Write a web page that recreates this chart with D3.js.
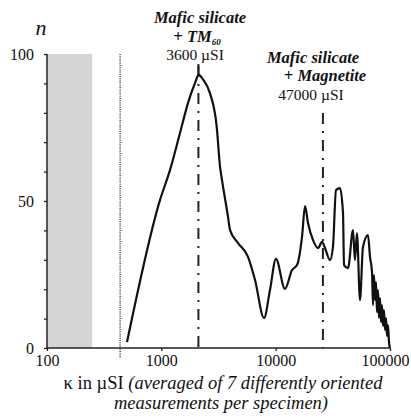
<!DOCTYPE html>
<html>
<head>
<meta charset="utf-8">
<script src="https://cdn.jsdelivr.net/npm/d3@7"></script>
<style>
  body { margin: 0; background: #fff; }
</style>
</head>
<body>
<script>
// susceptibility (µSI) and count n
var kappa = [501, 973, 1190, 1456, 1710, 1968, 2123, 2328, 2666, 3050, 3260, 3394,
  3831, 3990, 4690, 5730, 6600, 7910, 8920, 10060, 12070, 13890, 15370, 17000,
  18060, 19180, 21220, 23460, 25430, 27010, 29860, 31700, 33700, 36530, 38810,
  39620, 42940, 47460, 49400, 51400, 54650, 58040, 64220, 66850,
  69600, 71030, 72470, 73940, 75440, 76960, 78530, 80120, 81760, 83420, 85120,
  86850, 88620, 90420, 92270, 94150, 96050, 98010, 100000];
var count = [2.0, 50.3, 60.5, 73.1, 83.3, 90.1, 92.9, 91.2, 86.6, 75.3, 61.7, 57.1,
  44.6, 40.1, 35.7, 31.0, 23.1, 10.2, 19.7, 30.3, 20.1, 26.5, 28.2, 37.8,
  48.3, 42.5, 36.7, 34.0, 36.1, 34.0, 29.9, 34.4, 53.7, 54.4, 45.9,
  28.2, 27.2, 40.1, 29.9, 39.1, 16.3, 34.4, 38.4, 31.0,
  25.9, 14.6, 24.8, 16.3, 22.4, 12.2, 19.7, 10.2, 17.0, 8.8, 14.6,
  7.5, 12.9, 6.1, 10.2, 4.1, 7.8, 2.0, 0];

var xTicks = [100, 1000, 10000, 100000];
var yTicks = [0, 10, 20, 30, 40, 50, 60, 70, 80, 90, 100];
var yLabels = [0, 50, 100];

var shadedRange = [100, 248];   // grey band
var dottedAt = 436;             // dotted limit line
var markers = [2110, 25900];    // dash-dot marker lines
var markerTop = [66, 113];      // y pixel where marker starts

var FONT = "'Liberation Serif'";
var W = 411, H = 420;
var svg = d3.select("body").append("svg").attr("width", W).attr("height", H);

var x = d3.scaleLog().domain([100, 100000]).range([47, 390]);
var y = d3.scaleLinear().domain([0, 100]).range([348, 54]);

// grey band
svg.append("rect")
  .attr("x", x(shadedRange[0]))
  .attr("y", y(100))
  .attr("width", x(shadedRange[1]) - x(shadedRange[0]))
  .attr("height", y(0) - y(100))
  .attr("fill", "#d4d5d7");

// dotted line
svg.append("line")
  .attr("x1", x(dottedAt)).attr("x2", x(dottedAt))
  .attr("y1", y(100)).attr("y2", y(0) + 10)
  .attr("stroke", "#222").attr("stroke-width", 1.3)
  .attr("stroke-dasharray", "1,1.2");

// dash-dot markers
markers.forEach(function(m, i) {
  svg.append("line")
    .attr("x1", x(m)).attr("x2", x(m))
    .attr("y1", markerTop[i]).attr("y2", y(0))
    .attr("stroke", "#222").attr("stroke-width", 2)
    .attr("stroke-dasharray", "11,7,2,7");
});
// small solid tick on top of first marker
svg.append("line")
  .attr("x1", x(markers[0])).attr("x2", x(markers[0]))
  .attr("y1", 64).attr("y2", 75)
  .attr("stroke", "#222").attr("stroke-width", 2);

// curve
var pts = kappa.map(function(k, i) { return [k, count[i]]; });
var line = d3.line()
  .x(function(d) { return x(d[0]); })
  .y(function(d) { return y(d[1]); })
  .curve(d3.curveMonotoneX);
svg.append("path")
  .datum(pts)
  .attr("d", line)
  .attr("fill", "none")
  .attr("stroke", "#111")
  .attr("stroke-width", 2.2)
  .attr("stroke-linejoin", "round");

// axes
var yAxis = d3.axisLeft(y).tickValues(yTicks).tickSize(3).tickPadding(10)
  .tickFormat(function(d) { return yLabels.indexOf(d) >= 0 ? d : ""; });
var gy = svg.append("g").attr("transform", "translate(47,0)").call(yAxis);
var xAxis = d3.axisBottom(x).tickValues(xTicks).tickSize(3).tickPadding(4)
  .tickFormat(d3.format("d"));
var gx = svg.append("g").attr("transform", "translate(0,348)").call(xAxis);
[gx, gy].forEach(function(g) {
  g.attr("font-family", FONT).attr("font-size", 16);
  g.select(".domain").attr("stroke", "#222").attr("stroke-width", 1.5);
  g.selectAll(".tick line").attr("stroke", "#222").attr("stroke-width", 1.3);
  g.selectAll("text").style("font-family", FONT)
    .style("font-size", "16px").attr("fill", "#111");
});
gy.select(".domain").attr("d", "M0,348V54");
gx.select(".domain").attr("d", "M47,0H390");
// last label sits against the right edge
gx.selectAll(".tick text").filter(function(d) { return d === 100000; })
  .attr("dx", -5);

// y label
svg.append("text").attr("x", 41).attr("y", 35).attr("text-anchor", "middle")
  .style("font-family", FONT).style("font-style", "italic")
  .style("font-size", "22px").attr("fill", "#111").text("n");

// annotations
function ann(xc, yb, parts, size) {
  var t = svg.append("text").attr("x", xc).attr("y", yb)
    .attr("text-anchor", "middle").attr("fill", "#111")
    .style("font-family", FONT).style("font-size", size + "px");
  parts.forEach(function(p) {
    var s = t.append("tspan").text(p.t);
    if (p.bi) s.style("font-weight", "bold").style("font-style", "italic");
    if (p.sub) s.style("font-size", "9px").attr("dy", 3);
  });
  return t;
}
ann(200, 23, [{t: "Mafic silicate", bi: true}], 16.5);
ann(197, 42, [{t: "+ TM", bi: true}, {t: "60", bi: true, sub: true}], 16.5);
ann(195, 60, [{t: "3600  µSI"}], 15.5);
ann(313, 63, [{t: "Mafic silicate", bi: true}], 16.5);
ann(325, 81, [{t: "+ Magnetite", bi: true}], 16.5);
ann(311, 100, [{t: "47000 µSI"}], 15.5);

// x title
var t1 = svg.append("text").attr("x", 223).attr("y", 389).attr("text-anchor", "middle")
  .attr("fill", "#111").style("font-family", FONT).style("font-size", "18.5px");
t1.append("tspan").text("κ in  µSI ");
t1.append("tspan").style("font-style", "italic").text("(averaged of 7 differently oriented");
svg.append("text").attr("x", 221).attr("y", 409).attr("text-anchor", "middle")
  .attr("fill", "#111").style("font-family", FONT)
  .style("font-size", "18.5px").style("font-style", "italic")
  .text("measurements per specimen)");
</script>
</body>
</html>
